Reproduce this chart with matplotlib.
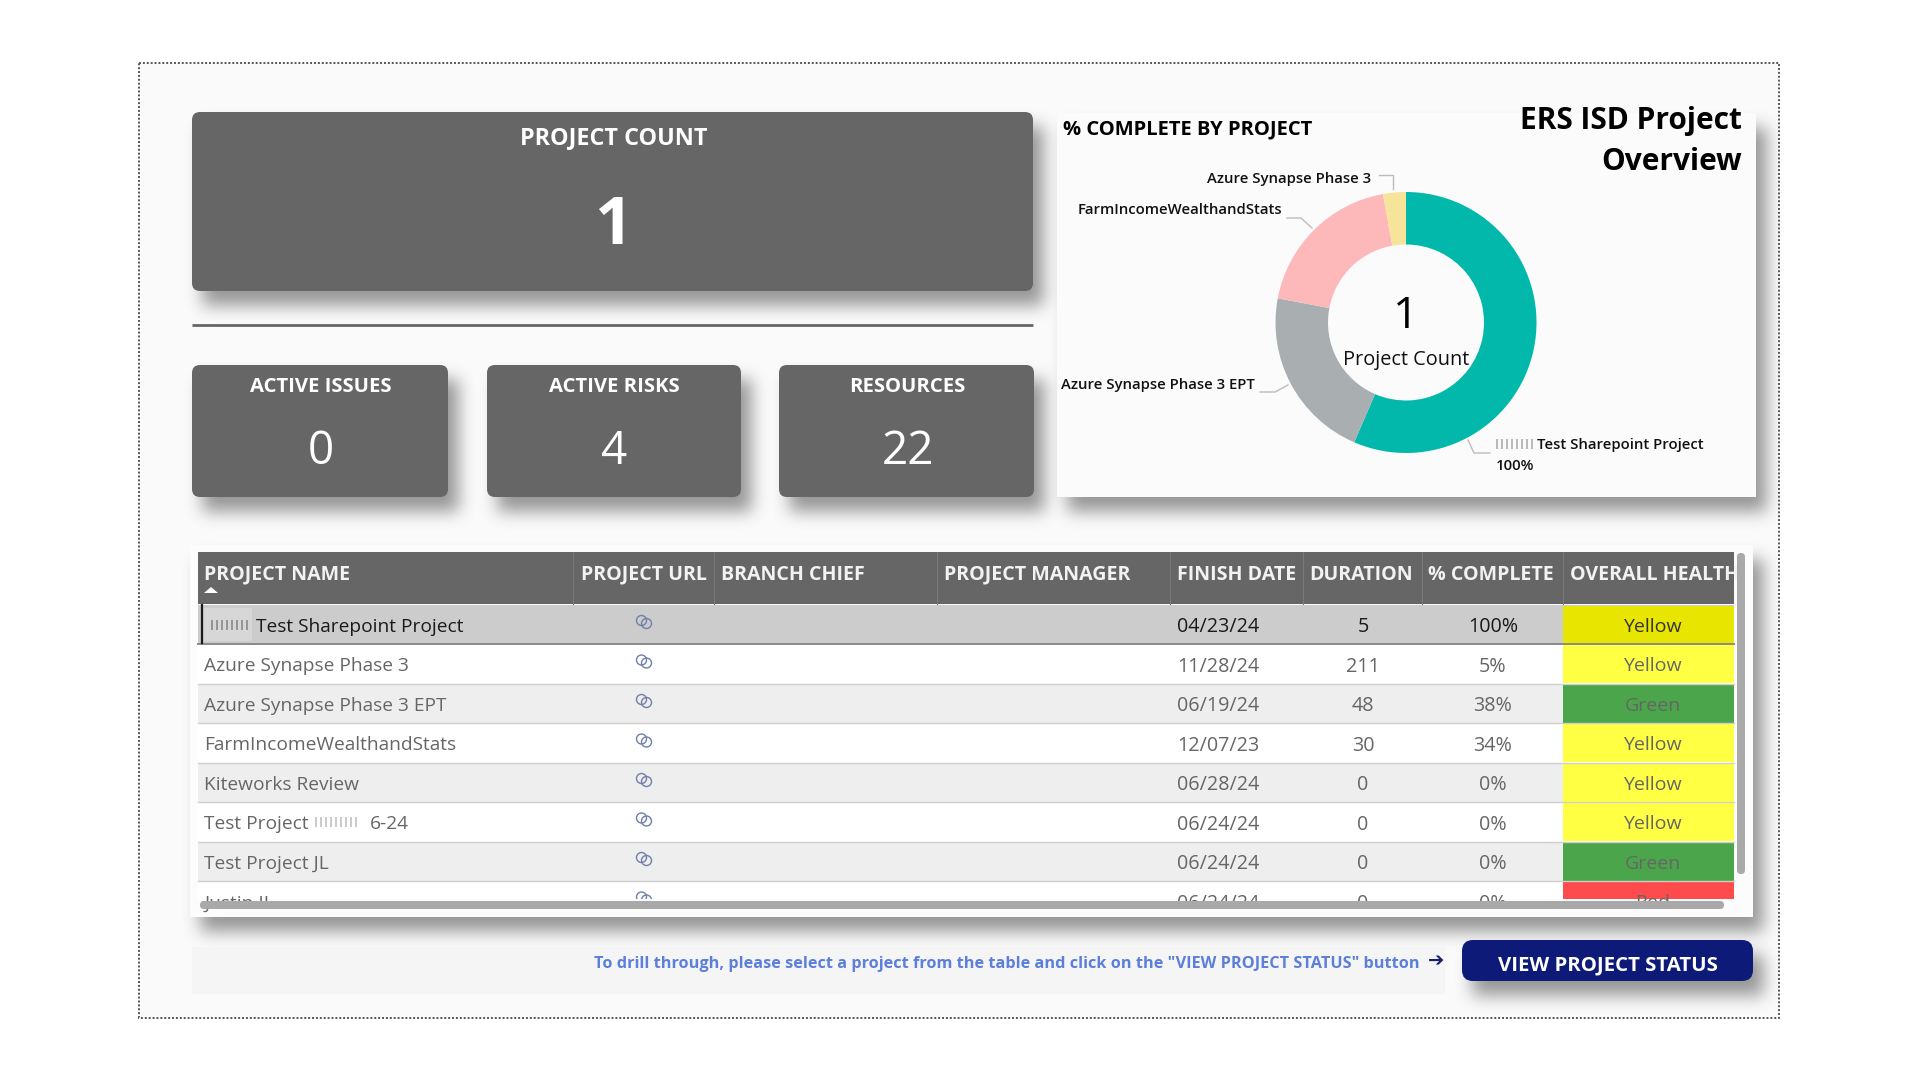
import numpy as np
import matplotlib
matplotlib.use("Agg")
import matplotlib.pyplot as plt
from matplotlib.patches import Rectangle, FancyBboxPatch, Circle, Polygon

plt.rcParams['font.family'] = ['Open Sans', 'DejaVu Sans']

# ---- data ----
kpi_labels = ["ACTIVE ISSUES", "ACTIVE RISKS", "RESOURCES"]
kpi_values = ["0", "4", "22"]
project_count = "1"

donut_labels = ["Test Sharepoint Project", "Azure Synapse Phase 3 EPT",
                "FarmIncomeWealthandStats", "Azure Synapse Phase 3"]
donut_values = [100, 38, 34, 5]
donut_colors = ["#01B8AA", "#A9AEB0", "#FDB9B9", "#F7E39A"]

columns = ["PROJECT NAME", "PROJECT URL", "BRANCH CHIEF", "PROJECT MANAGER",
           "FINISH DATE", "DURATION", "% COMPLETE", "OVERALL HEALTH"]
project_names = ["Test Sharepoint Project", "Azure Synapse Phase 3", "Azure Synapse Phase 3 EPT",
                 "FarmIncomeWealthandStats", "Kiteworks Review", "Test Project 6-24",
                 "Test Project JL", "Justin II"]
finish_dates = ["04/23/24", "11/28/24", "06/19/24", "12/07/23", "06/28/24", "06/24/24", "06/24/24", "06/24/24"]
durations = [5, 211, 48, 30, 0, 0, 0, 0]
pct_complete = [100, 5, 38, 34, 0, 0, 0, 0]
health = ["Yellow", "Yellow", "Green", "Yellow", "Yellow", "Yellow", "Green", "Red"]

# ---- layout / style ----
W, H = 1920, 1080
DARK = "#666666"
fig = plt.figure(figsize=(W / 100, H / 100), dpi=100, facecolor="white")
ax = fig.add_axes([0, 0, 1, 1])
ax.set_xlim(0, W)
ax.set_ylim(H, 0)
ax.axis("off")


def rect(x0, y0, x1, y1, fc, z=2, **kw):
    p = Rectangle((x0, y0), x1 - x0, y1 - y0, fc=fc, ec="none", zorder=z, **kw)
    ax.add_patch(p)
    return p


def rrect(x0, y0, x1, y1, fc, r=8, z=3):
    p = FancyBboxPatch((x0, y0), x1 - x0, y1 - y0, boxstyle=f"round,pad=0,rounding_size={r}",
                       fc=fc, ec="none", zorder=z)
    ax.add_patch(p)
    return p


def txt(x, y, s, size, color="black", ha="left", weight="normal", z=6, **kw):
    return ax.text(x, y, s, fontsize=size, color=color, ha=ha, va="center_baseline",
                   fontweight=weight, zorder=z, **kw)


def smudge(x0, x1, yc, color="#8A8A8A", z=5):
    """Redacted characters in the source: faint scratch marks."""
    xs = np.arange(x0, x1, 5.0)
    ax.vlines(xs, yc - 5, yc + 5, color=color, lw=1.1, alpha=0.75, zorder=z)


# frame
rect(139, 63, 1779, 1018, "#FAFAFA", z=0)
ax.add_patch(Rectangle((139, 63), 1640, 955, fc="none", ec="#555555", lw=1.4,
                       ls=(0, (1, 1)), zorder=1))

# shadows (blurred mask)
cards = [(192, 112, 1033, 291), (192, 365, 448, 497), (487, 365, 741, 497), (779, 365, 1034, 497),
         (1057, 113, 1756, 497), (190, 545, 1753, 917), (1462, 940, 1753, 981)]
mask = np.zeros((H, W))
for (x0, y0, x1, y1) in cards:
    mask[y0 + 13:y1 + 13, x0 + 9:x1 + 9] = 1
kern = np.ones(16) / 16
for _ in range(3):
    mask = np.apply_along_axis(lambda m: np.convolve(m, kern, mode="same"), 0, mask)
    mask = np.apply_along_axis(lambda m: np.convolve(m, kern, mode="same"), 1, mask)
rgba = np.zeros((H, W, 4))
rgba[..., :3] = 0.35
rgba[..., 3] = mask * 0.62
ax.imshow(rgba, extent=(0, W, H, 0), zorder=1.5, aspect="auto", interpolation="bilinear")
ax.set_xlim(0, W)
ax.set_ylim(H, 0)

# KPI cards
ax.plot([192, 1033], [325, 325], color=DARK, lw=2, zorder=3, solid_capstyle="butt")
rrect(192, 112, 1033, 291, DARK)
txt(614, 135, "PROJECT COUNT", 16.8, "white", "center", "bold")
txt(613, 218, project_count, 48, "white", "center", "bold")
kx = [(192, 448), (487, 741), (779, 1034)]
kc = [321, 614, 907.5]
for (x0, x1), c, lab, val in zip(kx, kc, kpi_labels, kpi_values):
    rrect(x0, 365, x1, 497, DARK)
    txt(c, 385, lab, 14.6, "white", "center", "bold")
    txt(c, 447, val, 33, "white", "center", "normal")

# donut panel
rect(1057, 113, 1756, 497, "#FBFBFB", z=2)
txt(1063, 127, "% COMPLETE BY PROJECT", 14.5, "black", weight="bold")
txt(1742, 118, "ERS ISD Project", 21.5, "black", "right", "bold")
txt(1742, 159, "Overview", 21.5, "black", "right", "bold")

cx, cy, R, r_in = 1406, 322.5, 130.5, 78
ax_pie = fig.add_axes([(cx - R) / W, 1 - (cy + R) / H, 2 * R / W, 2 * R / H])
ax_pie.pie(donut_values, colors=donut_colors, startangle=90, counterclock=False, radius=1,
           wedgeprops=dict(width=1 - r_in / R, linewidth=0))
ax_pie.set_xlim(-1, 1)
ax_pie.set_ylim(-1, 1)
ax_pie.axis("off")
ax_pie.text(1406, 311, project_count, transform=ax.transData, fontsize=32, ha="center",
            va="center_baseline", fontweight="normal", color="black")
ax_pie.text(1406, 358, "Project Count", transform=ax.transData, fontsize=14.3, ha="center",
            va="center_baseline", color="#111111", clip_on=False)

leaders = [[(1468, 440), (1474, 453), (1490, 453)],
           [(1260, 392), (1275, 392), (1288, 385)],
           [(1287, 218), (1301, 218), (1312, 228)],
           [(1379, 175), (1393, 175), (1393, 189)]]
for pts in leaders:
    xs, ys = zip(*pts)
    ax.plot(xs, ys, color="#BDBDBD", lw=1, zorder=5)
txt(1537, 444, donut_labels[0], 10.7, "#111111", weight="semibold")
smudge(1497, 1534, 444)
txt(1496, 464, f"{donut_values[0]}%", 10.7, "#111111", weight="semibold")
txt(1255, 383, donut_labels[1], 10.7, "#111111", "right", "semibold")
txt(1282, 209, donut_labels[2], 10.7, "#111111", "right", "semibold")
txt(1371, 177, donut_labels[3], 10.7, "#111111", "right", "semibold")

# table
rect(190, 545, 1753, 917, "#FCFCFC", z=2)
tx0, tx1 = 198, 1734
clip = Rectangle((tx0, 552), tx1 - tx0, 898.5 - 552, transform=ax.transData)
rect(tx0, 552, tx1, 604, DARK, z=3)
seps = [573, 714, 937, 1170, 1303, 1422, 1563]
for s in seps:
    ax.plot([s, s], [552, 604], color="#7A7A7A", lw=0.8, zorder=3.5)
head_x = [204.5, 581, 721, 944, 1177, 1361, 1491, 1569.5]
head_ha = ["left", "left", "left", "left", "left", "center", "center", "left"]
for x, c, ha in zip(head_x, columns, head_ha):
    t = txt(x, 572, c, 14.1, "#F2F2F2", ha, "bold")
    t.set_clip_path(clip)
ax.add_patch(Polygon([(204, 593), (218, 593), (211, 587)], fc="white", ec="none", zorder=6))

row_top, row_h = 604.5, 39.5
health_col = {"Yellow": "#FFFF44", "Green": "#4BA64B", "Red": "#FF4B4B"}
for i, name in enumerate(project_names):
    y0 = row_top + i * row_h
    y1 = min(y0 + row_h, 899)
    yc = y0 + 20.4
    sel = i == 0
    bg = "#CCCCCC" if sel else ("#FFFFFF" if i % 2 else "#EEEEEE")
    rect(tx0, y0, tx1, y1, bg, z=3)
    hc = "#E8E600" if sel else health_col[health[i]]
    rect(1563, y0 + 1, tx1, y1 - 0.5, hc, z=3.2)
    if y0 + row_h < 899:
        ax.plot([tx0, tx1], [y0 + row_h] * 2, color="#8A8A8A" if sel else "#CFCFCF",
                lw=1.4 if sel else 1, zorder=3.4)
    col = "#1A1A1A" if sel else DARK
    if sel:
        nx = 255.5
        rect(204, y0 + 3, 252, y1 - 3, "#E2E2E2", z=3.3, alpha=0.5)
        smudge(212, 250, yc, "#666666")
    else:
        nx = 204.5
    if i == 5:
        t1 = txt(nx, yc, "Test Project", 13.8, col)
        t2 = txt(370, yc, "6-24", 13.8, col)
        smudge(316, 360, yc, "#A5A5A5")
        items = [t1, t2]
    else:
        items = [txt(nx, yc, name, 13.8, col)]
    items += [txt(1177, yc, finish_dates[i], 14.2, col),
              txt(1363, yc, str(durations[i]), 14.2, col, "center"),
              txt(1493, yc, f"{pct_complete[i]}%", 14.2, col, "center"),
              txt(1652.5, yc, health[i], 14, "#333333" if sel else DARK, "center")]
    for t in items:
        t.set_clip_path(clip)
    for dx, dy in [(-2.5, -1.5), (2.5, 1.5)]:
        c = Circle((644 + dx, y0 + 17.5 + dy), 5, fc="none", ec="#6F7FA8", lw=1, zorder=5)
        ax.add_patch(c)
        c.set_clip_path(clip)

rect(tx0, 899, tx1, 901, "#FCFCFC", z=5)
rrect(200, 901, 1724, 909, "#A9A9A9", r=4, z=6)
rrect(1737, 553, 1745, 874, "#A9A9A9", r=4, z=6)
ax.plot([201.7, 201.7], [605, 643], color="#1A1A1A", lw=1.6, zorder=6)

# footer
rect(192, 947, 1445, 994, "#F5F5F5", z=2)
txt(594, 962, 'To drill through, please select a project from the table and click on the "VIEW PROJECT STATUS" button',
    11.72, "#5B7FDB", weight="bold")
ax.text(1436, 961, "\u2794", fontsize=14, color="#14206E", ha="center", va="center",
        family="DejaVu Sans", fontweight="bold", zorder=6)
rrect(1462, 940, 1753, 981, "#0D1A78", r=11)
txt(1608, 963, "VIEW PROJECT STATUS", 14.7, "white", "center", "bold")

fig.savefig("out.png", dpi=100, facecolor="white")
